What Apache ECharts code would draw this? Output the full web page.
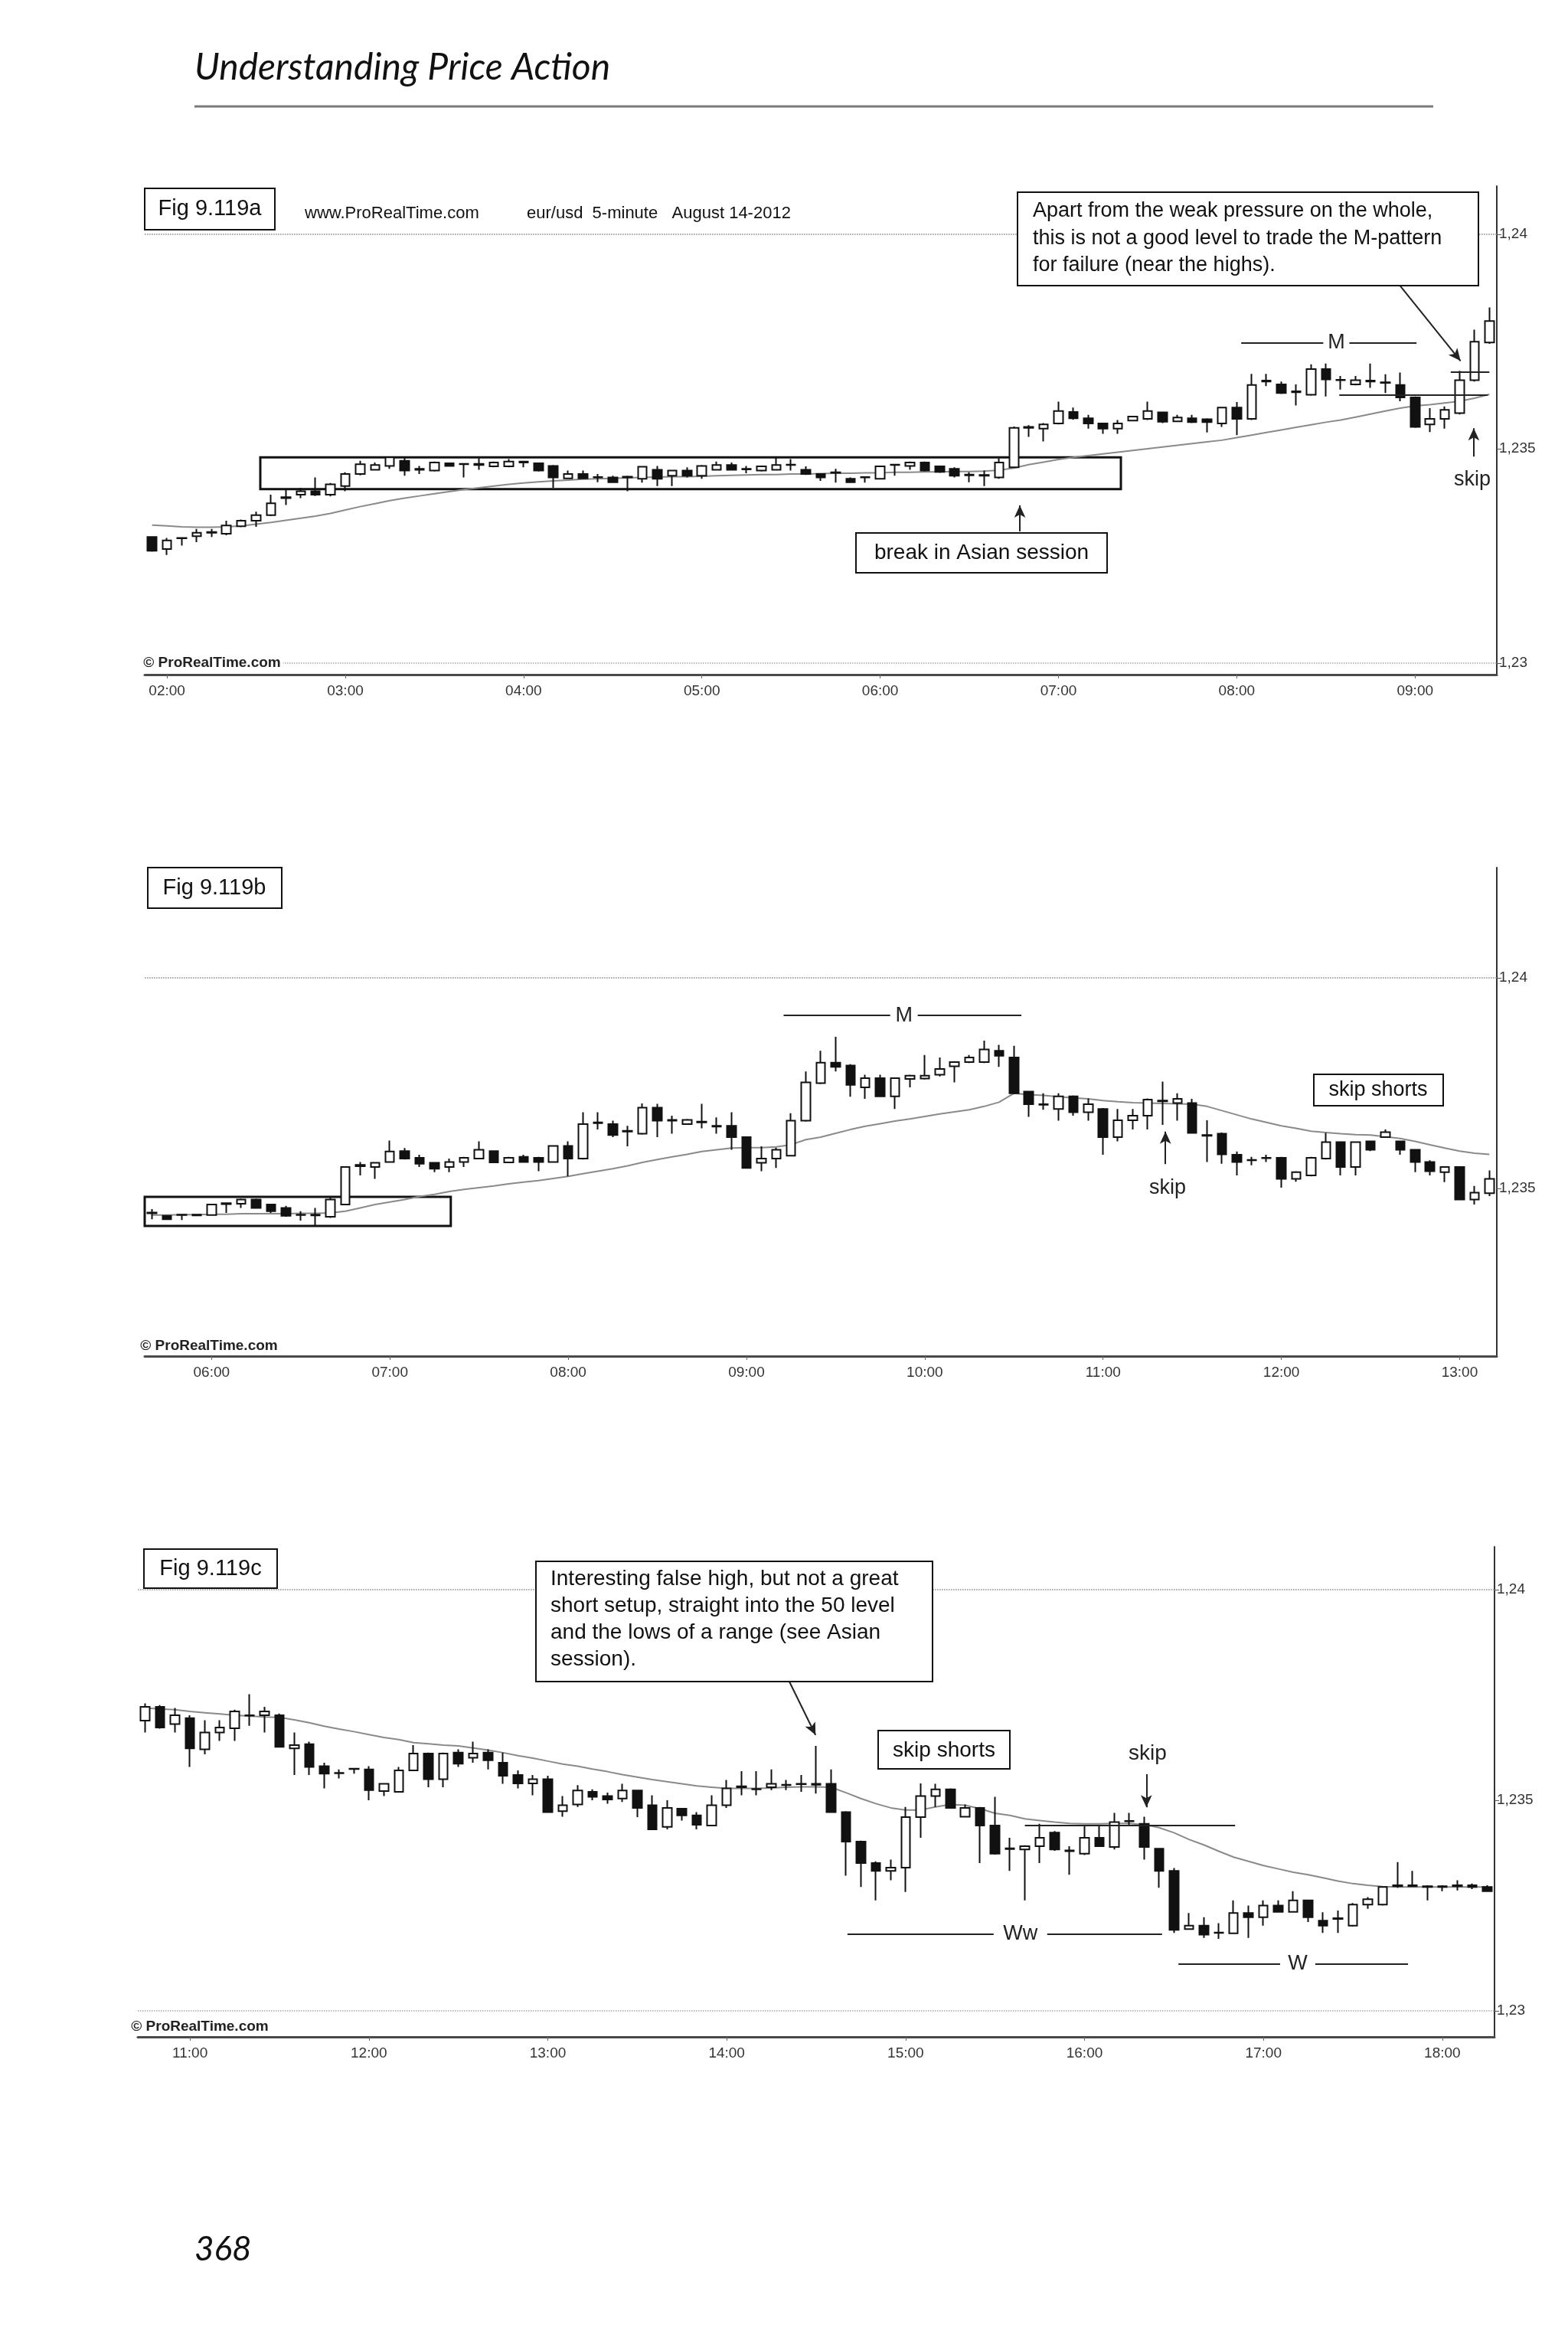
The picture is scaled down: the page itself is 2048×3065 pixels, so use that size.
<!DOCTYPE html>
<html><head><meta charset="utf-8">
<script src="https://cdn.jsdelivr.net/npm/echarts@6/dist/echarts.min.js"></script>
<style>html,body{margin:0;padding:0;background:#fff}#c{width:2048px;height:3065px}</style>
</head><body><div id="c"></div>
<script>
// ---------- categories (5-minute bars) ----------
const timesA = ['01:55',
'02:00','02:05','02:10','02:15','02:20','02:25','02:30','02:35','02:40','02:45','02:50','02:55',
'03:00','03:05','03:10','03:15','03:20','03:25','03:30','03:35','03:40','03:45','03:50','03:55',
'04:00','04:05','04:10','04:15','04:20','04:25','04:30','04:35','04:40','04:45','04:50','04:55',
'05:00','05:05','05:10','05:15','05:20','05:25','05:30','05:35','05:40','05:45','05:50','05:55',
'06:00','06:05','06:10','06:15','06:20','06:25','06:30','06:35','06:40','06:45','06:50','06:55',
'07:00','07:05','07:10','07:15','07:20','07:25','07:30','07:35','07:40','07:45','07:50','07:55',
'08:00','08:05','08:10','08:15','08:20','08:25','08:30','08:35','08:40','08:45','08:50','08:55',
'09:00','09:05','09:10','09:15','09:20','09:25'];
const timesB = ['05:40','05:45','05:50','05:55',
'06:00','06:05','06:10','06:15','06:20','06:25','06:30','06:35','06:40','06:45','06:50','06:55',
'07:00','07:05','07:10','07:15','07:20','07:25','07:30','07:35','07:40','07:45','07:50','07:55',
'08:00','08:05','08:10','08:15','08:20','08:25','08:30','08:35','08:40','08:45','08:50','08:55',
'09:00','09:05','09:10','09:15','09:20','09:25','09:30','09:35','09:40','09:45','09:50','09:55',
'10:00','10:05','10:10','10:15','10:20','10:25','10:30','10:35','10:40','10:45','10:50','10:55',
'11:00','11:05','11:10','11:15','11:20','11:25','11:30','11:35','11:40','11:45','11:50','11:55',
'12:00','12:05','12:10','12:15','12:20','12:25','12:30','12:35','12:40','12:45','12:50','12:55',
'13:00','13:05','13:10'];
const timesC = ['10:45','10:50','10:55',
'11:00','11:05','11:10','11:15','11:20','11:25','11:30','11:35','11:40','11:45','11:50','11:55',
'12:00','12:05','12:10','12:15','12:20','12:25','12:30','12:35','12:40','12:45','12:50','12:55',
'13:00','13:05','13:10','13:15','13:20','13:25','13:30','13:35','13:40','13:45','13:50','13:55',
'14:00','14:05','14:10','14:15','14:20','14:25','14:30','14:35','14:40','14:45','14:50','14:55',
'15:00','15:05','15:10','15:15','15:20','15:25','15:30','15:35','15:40','15:45','15:50','15:55',
'16:00','16:05','16:10','16:15','16:20','16:25','16:30','16:35','16:40','16:45','16:50','16:55',
'17:00','17:05','17:10','17:15','17:20','17:25','17:30','17:35','17:40','17:45','17:50','17:55',
'18:00','18:05','18:10','18:15'];

// ---------- price bars [open, close, low, high] ----------
const ohlcA = [
[1.23294,1.23262,1.2326,1.23296],[1.23266,1.23286,1.23252,1.23292],[1.23291,1.23292,1.23274,1.23293],[1.23296,1.23304,1.23282,1.23313],
[1.23306,1.23304,1.23294,1.23313],[1.23302,1.23321,1.23298,1.23332],[1.23319,1.23332,1.23317,1.23335],[1.23332,1.23345,1.23318,1.23353],
[1.23345,1.23373,1.23343,1.23393],[1.23385,1.23387,1.23369,1.23405],[1.23393,1.23401,1.23385,1.23409],[1.23401,1.23393,1.2339,1.23433],
[1.23393,1.23417,1.23389,1.2342],[1.23413,1.23441,1.23401,1.23445],[1.23441,1.23464,1.23438,1.23472],[1.23451,1.23462,1.23449,1.23468],
[1.2346,1.2348,1.23453,1.23482],[1.23472,1.23449,1.23437,1.2348],[1.23453,1.23451,1.23441,1.2346],[1.23449,1.23468,1.23447,1.2347],
[1.23466,1.2346,1.23458,1.23468],[1.23465,1.23464,1.23433,1.23466],[1.23462,1.23465,1.23451,1.23478],[1.23459,1.23468,1.23457,1.2347],
[1.23459,1.2347,1.23457,1.23476],[1.23468,1.2347,1.23457,1.23472],[1.23466,1.23449,1.23447,1.23468],[1.2346,1.23433,1.23409,1.23462],
[1.23431,1.23441,1.2343,1.23449],[1.23441,1.23431,1.2343,1.23449],[1.23433,1.23434,1.23422,1.23441],[1.23433,1.23422,1.2342,1.23437],
[1.23433,1.23435,1.23401,1.23437],[1.2343,1.23458,1.23421,1.2346],[1.23451,1.2343,1.23413,1.2346],[1.23437,1.23449,1.23413,1.23451],
[1.23449,1.23437,1.23433,1.23457],[1.23437,1.2346,1.2343,1.23462],[1.23451,1.23462,1.23449,1.2347],[1.23462,1.23451,1.23449,1.23468],
[1.23453,1.23452,1.23443,1.2346],[1.23449,1.23459,1.23447,1.2346],[1.23451,1.23462,1.23449,1.2348],[1.23462,1.23463,1.23449,1.23476],
[1.23451,1.23441,1.23439,1.23459],[1.23441,1.23433,1.23425,1.23443],[1.23445,1.23444,1.23421,1.23453],[1.2343,1.23422,1.2342,1.23433],
[1.23433,1.23434,1.23421,1.23435],[1.2343,1.23459,1.23428,1.2346],[1.23462,1.23463,1.23437,1.23465],[1.2346,1.23468,1.23451,1.2347],
[1.23468,1.23449,1.23447,1.2347],[1.23459,1.23446,1.23444,1.2346],[1.23453,1.23437,1.23433,1.23457],[1.2344,1.23438,1.23422,1.23445],
[1.23437,1.23439,1.23413,1.23449],[1.23433,1.23468,1.2343,1.23478],[1.23457,1.23549,1.23455,1.23552],[1.23549,1.23551,1.23528,1.23555],
[1.23547,1.23557,1.23517,1.2356],[1.23559,1.23588,1.23557,1.2361],[1.23586,1.23571,1.23568,1.23596],[1.23571,1.23559,1.23547,1.23579],
[1.23559,1.23547,1.23535,1.2356],[1.23547,1.23559,1.23535,1.23567],[1.23566,1.23575,1.23564,1.23577],[1.2357,1.23588,1.23567,1.2361],
[1.23585,1.23563,1.2356,1.23587],[1.23564,1.23573,1.23562,1.23579],[1.23571,1.23562,1.2356,1.23579],[1.23569,1.23562,1.23538,1.23571],
[1.23559,1.23596,1.23551,1.23598],[1.23596,1.2357,1.23532,1.23609],[1.2357,1.23649,1.23567,1.23675],[1.23657,1.23659,1.23646,1.23675],
[1.2365,1.2363,1.23628,1.23657],[1.23632,1.23634,1.23601,1.2365],[1.23626,1.23686,1.23624,1.23697],[1.23686,1.23662,1.23622,1.23699],
[1.2366,1.23661,1.23638,1.2367],[1.2365,1.2366,1.23648,1.2367],[1.23659,1.23657,1.23642,1.23699],[1.23655,1.23654,1.2363,1.23674],
[1.23649,1.2362,1.23611,1.23678],[1.2362,1.23551,1.23549,1.23622],[1.23557,1.2357,1.23539,1.23595],[1.2357,1.23591,1.23547,1.23599],
[1.23583,1.2366,1.2358,1.23682],[1.2366,1.2375,1.23657,1.23778],[1.23748,1.23798,1.23745,1.2383]];

const ohlcB = [
[1.23441,1.23443,1.23427,1.23451],[1.23435,1.23427,1.23425,1.23437],[1.23437,1.23438,1.23425,1.23439],[1.23438,1.23436,1.23435,1.23439],
[1.23437,1.23462,1.23435,1.23464],[1.23463,1.23465,1.23442,1.23466],[1.23464,1.23474,1.23454,1.23476],[1.23474,1.23454,1.23452,1.23476],
[1.23462,1.23446,1.23442,1.23464],[1.23454,1.23435,1.23433,1.23459],[1.23437,1.23438,1.23424,1.23446],[1.23438,1.23436,1.23413,1.23454],
[1.23433,1.23474,1.2343,1.23482],[1.23462,1.23551,1.2346,1.23553],[1.23553,1.23556,1.23531,1.23563],[1.23551,1.23561,1.23523,1.23562],
[1.23563,1.23588,1.23561,1.23614],[1.23589,1.23571,1.23569,1.23596],[1.23573,1.23559,1.23551,1.2358],[1.23561,1.23547,1.23539,1.23562],
[1.23551,1.23563,1.23539,1.23571],[1.23563,1.23573,1.23551,1.23575],[1.23571,1.23592,1.2357,1.23612],[1.23589,1.23562,1.2356,1.2359],
[1.23562,1.23573,1.2356,1.23575],[1.23575,1.23563,1.23561,1.2358],[1.23573,1.23563,1.23541,1.23575],[1.23563,1.23601,1.23561,1.23603],
[1.23601,1.23571,1.23529,1.23612],[1.23571,1.23653,1.23569,1.23681],[1.23655,1.23657,1.2364,1.23681],[1.23653,1.23627,1.23622,1.23661],
[1.23635,1.23637,1.236,1.23649],[1.2363,1.23692,1.23628,1.23702],[1.23692,1.23661,1.23622,1.23701],[1.23661,1.23663,1.2363,1.23673],
[1.23653,1.23663,1.23651,1.23665],[1.23659,1.23657,1.23643,1.23701],[1.23649,1.23647,1.2363,1.23669],[1.23649,1.23622,1.23592,1.23681],
[1.23622,1.23549,1.23547,1.23624],[1.23561,1.23571,1.23541,1.236],[1.23571,1.23592,1.23549,1.23597],[1.23578,1.23661,1.23576,1.23679],
[1.23661,1.23752,1.23659,1.23778],[1.2375,1.23799,1.23748,1.23827],[1.23799,1.23789,1.23778,1.2386],[1.23792,1.23746,1.23718,1.23795],
[1.2374,1.23762,1.23713,1.2377],[1.23762,1.23719,1.23717,1.2377],[1.23719,1.23762,1.23689,1.23764],[1.2376,1.23768,1.2374,1.2377],
[1.23761,1.23768,1.23759,1.23817],[1.2377,1.23784,1.23766,1.23811],[1.2379,1.238,1.23752,1.23802],[1.238,1.23811,1.23798,1.23817],
[1.238,1.2383,1.23798,1.23851],[1.23827,1.23815,1.23789,1.23841],[1.23811,1.23726,1.23724,1.23839],[1.2373,1.237,1.2367,1.23732],
[1.237,1.23699,1.23687,1.23726],[1.23689,1.23719,1.23661,1.23726],[1.23719,1.23681,1.23673,1.23721],[1.23681,1.237,1.23661,1.23714],
[1.23689,1.23622,1.2358,1.23691],[1.23622,1.23662,1.23612,1.23689],[1.23662,1.23673,1.2364,1.23689],[1.23673,1.23711,1.2364,1.23714],
[1.23707,1.23709,1.23651,1.23754],[1.23703,1.23713,1.23661,1.23726],[1.23703,1.23632,1.2363,1.23713],[1.23627,1.23625,1.23563,1.23662],
[1.2363,1.23581,1.23559,1.23633],[1.2358,1.23563,1.23531,1.23588],[1.23567,1.23568,1.23555,1.23575],[1.23573,1.23572,1.23563,1.2358],
[1.23573,1.23523,1.23502,1.23575],[1.23523,1.23539,1.23516,1.23541],[1.23531,1.23573,1.23529,1.23575],[1.23571,1.2361,1.23569,1.23632],
[1.2361,1.23551,1.23531,1.23612],[1.23551,1.2361,1.23531,1.23612],[1.23612,1.23592,1.23589,1.23614],[1.23622,1.23634,1.2362,1.2364],
[1.23612,1.23592,1.2358,1.23614],[1.23592,1.23563,1.23539,1.23594],[1.23563,1.23541,1.23531,1.23567],[1.23539,1.23551,1.23515,1.23553],
[1.23551,1.23474,1.23472,1.23553],[1.23474,1.2349,1.23462,1.23506],[1.23489,1.23523,1.23482,1.23543]];

const ohlcC = [
[1.23689,1.23722,1.23661,1.2373],[1.23722,1.23673,1.2367,1.23726],[1.23681,1.23702,1.23661,1.23719],[1.23695,1.23623,1.23579,1.23702],
[1.23621,1.23661,1.23609,1.2369],[1.23661,1.23673,1.23641,1.2369],[1.23671,1.23711,1.23641,1.23715],[1.23702,1.23701,1.23677,1.23752],
[1.23702,1.23711,1.23661,1.23722],[1.23702,1.23627,1.23625,1.23706],[1.23623,1.23631,1.2356,1.23661],[1.23633,1.23579,1.2356,1.23639],
[1.23581,1.23563,1.23528,1.23589],[1.23565,1.23564,1.23552,1.23573],[1.23574,1.23575,1.23563,1.23577],[1.23573,1.23524,1.235,1.23581],
[1.23522,1.23539,1.2351,1.23541],[1.2352,1.23571,1.23518,1.23579],[1.23571,1.23611,1.23569,1.23631],[1.23611,1.2355,1.23531,1.23613],
[1.2355,1.23611,1.23531,1.23613],[1.23613,1.23587,1.23579,1.23621],[1.23601,1.23611,1.23589,1.23639],[1.23613,1.23595,1.23573,1.23621],
[1.23589,1.23558,1.23539,1.23613],[1.2356,1.2354,1.23528,1.23571],[1.2354,1.2355,1.23512,1.2356],[1.2355,1.23472,1.2347,1.23558],
[1.23474,1.23488,1.23461,1.2351],[1.2349,1.23523,1.23484,1.23536],[1.2352,1.23508,1.235,1.23526],[1.2351,1.23502,1.23492,1.23518],
[1.23504,1.23523,1.23496,1.23539],[1.23523,1.23482,1.2346,1.23525],[1.23488,1.23431,1.23429,1.23512],[1.23437,1.23482,1.23431,1.235],
[1.2348,1.23464,1.23452,1.23482],[1.23464,1.23442,1.23431,1.23472],[1.2344,1.23488,1.23438,1.23512],[1.23488,1.23528,1.23482,1.23548],
[1.23531,1.23533,1.23512,1.23569],[1.23527,1.23526,1.23512,1.23569],[1.23531,1.23539,1.23524,1.23573],[1.23536,1.23537,1.23524,1.23548],
[1.23538,1.23539,1.2352,1.2356],[1.23537,1.23539,1.23516,1.23629],[1.23539,1.23472,1.2347,1.23573],[1.23472,1.23402,1.23321,1.23474],
[1.23402,1.23351,1.23294,1.23404],[1.23351,1.23332,1.23262,1.23355],[1.23332,1.2334,1.2331,1.23359],[1.2334,1.2346,1.23282,1.23484],
[1.2346,1.2351,1.23411,1.2354],[1.2351,1.23526,1.23484,1.23539],[1.23526,1.23482,1.2348,1.23528],[1.23461,1.23482,1.2346,1.2349],
[1.23482,1.2344,1.23351,1.23484],[1.2344,1.23373,1.23371,1.23508],[1.23384,1.23386,1.23332,1.23411],[1.23383,1.23391,1.23262,1.23393],
[1.23391,1.23411,1.23351,1.23444],[1.23423,1.23383,1.2338,1.23427],[1.23381,1.23379,1.23323,1.23391],[1.23373,1.23411,1.2337,1.23442],
[1.23411,1.23391,1.23389,1.2344],[1.23389,1.23448,1.23383,1.2347],[1.2345,1.23451,1.2344,1.2347],[1.23444,1.23389,1.23359,1.23461],
[1.23385,1.23332,1.23292,1.23387],[1.23332,1.23192,1.23185,1.23339],[1.23194,1.23202,1.23192,1.23232],[1.23202,1.23181,1.23173,1.23222],
[1.23186,1.23185,1.23171,1.23208],[1.23184,1.23232,1.23182,1.23262],[1.23232,1.23222,1.23173,1.2325],[1.23222,1.2325,1.23202,1.23262],
[1.2325,1.23235,1.23233,1.23262],[1.23235,1.23262,1.23233,1.23284],[1.23262,1.23222,1.23211,1.23264],[1.23214,1.23202,1.23185,1.23234],
[1.23218,1.2322,1.23185,1.23238],[1.23202,1.23252,1.232,1.23256],[1.23252,1.23265,1.23242,1.2327],[1.23252,1.23294,1.2325,1.23296],
[1.23296,1.23298,1.23292,1.23353],[1.23298,1.23296,1.23294,1.23332],[1.23294,1.23296,1.23262,1.23298],[1.23296,1.23294,1.23284,1.23298],
[1.23296,1.23298,1.23286,1.2331],[1.23298,1.23294,1.23289,1.23302],[1.23294,1.23284,1.23282,1.23298]];

// ---------- moving average ----------
const maA = [1.23322,1.2332,1.23318,1.23317,1.23317,1.23318,1.2332,1.23324,1.23328,1.23333,
1.23338,1.23343,1.23349,1.23357,1.23365,1.23372,1.23379,1.23385,1.2339,1.23395,
1.234,1.23405,1.23409,1.23413,1.23417,1.2342,1.23423,1.23425,1.23427,1.23429,
1.2343,1.23431,1.23432,1.23433,1.23434,1.23435,1.23435,1.23436,1.23437,1.23438,
1.23439,1.2344,1.2344,1.23441,1.23441,1.23442,1.23443,1.23443,1.23444,1.23444,
1.23445,1.23445,1.23446,1.23446,1.23447,1.23447,1.23448,1.2345,1.23455,1.23463,
1.23469,1.23475,1.2348,1.23484,1.23488,1.23492,1.23496,1.235,1.23504,1.23508,
1.23512,1.23516,1.2352,1.23526,1.23532,1.23538,1.23544,1.2355,1.23556,1.23562,
1.23567,1.23574,1.23581,1.23588,1.23595,1.236,1.23603,1.23607,1.23611,1.23618,1.23627];
const maB = [1.23437,1.23437,1.23438,1.23438,1.23439,1.23439,1.2344,1.2344,1.2344,1.2344,1.23441,1.23441,1.23442,
1.23446,1.23454,1.23462,1.23468,1.23474,1.23481,1.23486,1.23493,1.23498,1.23502,1.23506,1.23511,1.23515,1.23519,1.23524,1.23529,1.23535,1.23541,1.23547,1.23554,1.23562,1.23569,1.23575,1.23581,1.23588,1.23592,1.23596,1.23597,1.23597,1.23599,1.23604,1.23616,
1.23622,1.23631,1.2364,1.23648,1.23654,1.2366,1.23665,1.23671,1.23677,1.23682,1.23687,1.23695,1.23705,
1.23726,1.23723,1.23721,1.23718,1.23715,1.23713,1.23709,1.23706,1.23704,1.23703,1.23702,1.23701,1.237,1.23695,1.23685,1.23675,1.23665,1.23657,1.23649,1.23643,1.23636,1.23633,1.2363,1.23628,1.23627,1.23623,1.23619,1.23612,1.23604,1.23596,1.23589,1.23584,1.23581];
const maC = [1.23719,1.23717,1.23715,1.23711,1.23708,1.23705,1.23702,1.237,1.23698,1.23697,
1.23691,1.23684,1.23676,1.23669,1.23663,1.23656,1.23649,1.23644,1.23637,1.23634,
1.23631,1.23629,1.23624,1.23619,1.23613,1.23606,1.236,1.23593,1.23586,1.23581,
1.23574,1.23568,1.23561,1.23555,1.23549,1.23544,1.23539,1.23534,1.23531,1.23528,
1.23528,1.23528,1.23529,1.23531,1.23532,1.23532,1.23531,1.23518,1.23504,1.23492,
1.23482,1.23477,1.23477,1.23484,1.2349,1.23488,1.2348,1.23469,1.23464,1.23456,
1.23452,1.23448,1.23445,1.23444,1.23444,1.23445,1.23445,1.23442,1.23435,1.23423,
1.23407,1.23394,1.23379,1.23365,1.23355,1.23345,1.23337,1.23329,1.23323,1.23316,
1.23308,1.23302,1.23298,1.23295,1.23294,1.23294,1.23294,1.23294,1.23294,1.23294,1.23294];

// ---------- tick labels ----------
const yTicksA = [1.23, 1.235, 1.24];
const yTicksB = [1.235, 1.24];
const yTicksC = [1.23, 1.235, 1.24];

const FONT = '"Liberation Sans Narrow","Liberation Sans",Arial,sans-serif';
const chart = echarts.init(document.getElementById('c'), null, {renderer:'canvas', width:2048, height:3065});

const isHour = (i, v) => v.slice(3) === '00';
function xCat(grid, data){
  return {type:'category', gridIndex:grid, data, boundaryGap:true,
    axisLine:{show:true, onZero:false, lineStyle:{color:'#4a4a4a', width:3}},
    axisTick:{show:true, interval:isHour, alignWithLabel:true, length:5, lineStyle:{color:'#666', width:1}},
    axisLabel:{interval:isHour, fontSize:19, color:'#333', margin:12, fontFamily:FONT},
    splitLine:{show:false}};
}
function xVal(grid){
  return {type:'value', gridIndex:grid, min:-0.5, max:90.5, show:false,
    axisLine:{show:false, onZero:false}, splitLine:{show:false}};
}
function yAx(grid, min, max, ticks){
  return {type:'value', gridIndex:grid, position:'right', min, max, scale:true,
    axisLine:{show:true, onZero:false, lineStyle:{color:'#333', width:2}},
    axisTick:{show:true, customValues:ticks, length:6, lineStyle:{color:'#555'}},
    axisLabel:{customValues:ticks, fontSize:19, color:'#333', margin:3, fontFamily:FONT,
      formatter: v => String(v).replace('.', ',')},
    splitLine:{show:false}};
}
const gridStyle = {type:'dotted', color:'#a8a8a8', width:1.5};
const annLine = {type:'solid', color:'#222', width:2};
function gl(ticks){ return ticks.map(v => ({yAxis:v, lineStyle:gridStyle})); }
function seg(x1,y1,x2,y2){ return [{coord:[x1,y1], symbol:'none', lineStyle:annLine},{coord:[x2,y2], symbol:'none'}]; }
function arrow(x1,y1,x2,y2){ return [{coord:[x1,y1], symbol:'none', lineStyle:{type:'solid', color:'#222', width:2}},{coord:[x2,y2], symbol:'arrow', symbolSize:[11,16]}]; }
function lbl(x,y,t,w){ return {coord:[x,y], symbol:'rect', symbolSize:[w,30], itemStyle:{color:'#fff'},
  label:{show:true, position:'inside', formatter:t, color:'#222', fontSize:27, fontFamily:FONT}}; }

function candle(xi, yi, data){
  return {type:'candlestick', xAxisIndex:xi, yAxisIndex:yi, data, barWidth:12, z:3,
    itemStyle:{color:'#ffffff', color0:'#111', borderColor:'#111', borderColor0:'#111', borderColorDoji:'#111', borderWidth:2}};
}
function maLine(xi, yi, ma, ml, ma2, mp){
  return {type:'line', xAxisIndex:xi, yAxisIndex:yi, data: ma.map((v,i)=>[i,v]), symbol:'none', showSymbol:false, z:2,
    lineStyle:{color:'#8a8a8a', width:2}, silent:true,
    markLine:{silent:true, symbol:['none','none'], label:{show:false}, data:ml, animation:false},
    markArea:{silent:true, itemStyle:{color:'rgba(0,0,0,0)', borderColor:'#111', borderWidth:3}, data:ma2, animation:false},
    markPoint:{silent:true, data:mp, animation:false}};
}

const option = {
  animation:false,
  backgroundColor:'#fff',
  textStyle:{fontFamily:FONT},
  grid:[
    {left:189, right:93, top:243, height:638},
    {left:189, right:93, top:1133, height:638},
    {left:180, right:96, top:2020, height:640}
  ],
  xAxis:[xCat(0,timesA), xCat(1,timesB), xCat(2,timesC), xVal(0), xVal(1), xVal(2)],
  yAxis:[yAx(0,1.22973,1.24113,yTicksA), yAx(1,1.23102,1.24262,yTicksB), yAx(2,1.22938,1.24102,yTicksC)],
  series:[
    maLine(3,0,maA,
      gl(yTicksA).concat([
        seg(73.3,1.23748,85.1,1.23748),
        seg(79.9,1.23625,89.9,1.23625),
        seg(87.4,1.2368,90.0,1.2368),
        arrow(84.0,1.2388,88.06,1.23705),
        arrow(58.4,1.23307,58.4,1.23368),
        arrow(88.95,1.23482,88.95,1.23548)
      ]),
      [[{coord:[7.28,1.2348]},{coord:[65.2,1.23406]}]],
      [lbl(79.7,1.23748,'M',34)]),
    candle(0,0,ohlcA),
    maLine(4,1,maB,
      gl(yTicksB).concat([
        seg(42.5,1.23911,58.5,1.23911),
        arrow(68.2,1.23558,68.2,1.23635)
      ]),
      [[{coord:[-0.5,1.2348]},{coord:[20.1,1.23411]}]],
      [lbl(50.6,1.23911,'M',36)]),
    candle(1,1,ohlcB),
    maLine(5,2,maC,
      gl(yTicksC).concat([
        seg(59.0,1.2344,73.1,1.2344),
        seg(47.1,1.23182,68.2,1.23182),
        seg(69.3,1.23111,84.7,1.23111),
        arrow(43.2,1.23782,44.96,1.23655),
        arrow(67.15,1.23562,67.15,1.23483)
      ]),
      [],
      [lbl(58.7,1.23182,'Ww',70), lbl(77.3,1.23111,'W',46)]),
    candle(2,2,ohlcC)
  ],
  graphic:[]
};

// ---------- annotations (page furniture) ----------
const G = option.graphic;
function box(x,y,w,h){ G.push({type:'rect', z:100, shape:{x,y,width:w,height:h}, style:{fill:'#fff', stroke:'#111', lineWidth:2}}); }
function txt(x,y,s,size,align){ G.push({type:'text', z:101, x, y,
  style:{text:s, fill:'#111', font:size+'px '+FONT, textAlign:align||'left', textVerticalAlign:'middle'}}); }
function bgtxt(x,y,s,size,align,weight){ G.push({type:'text', z:101, x, y,
  style:{text:s, fill:'#222', font:(weight||'')+' '+size+'px '+FONT, textAlign:align||'center', textVerticalAlign:'middle', backgroundColor:'#fff', padding:[2,3]}}); }

// page header
G.push({type:'text', z:101, x:254, y:89, style:{text:'Understanding Price Action', fill:'#111', font:'italic 48px Lato,"Open Sans",sans-serif', textVerticalAlign:'middle'}});
G.push({type:'line', z:100, shape:{x1:254,y1:139,x2:1872,y2:139}, style:{stroke:'#7a7a7a', lineWidth:3}});
G.push({type:'text', z:101, x:254, y:2938, style:{text:'368', fill:'#111', font:'italic 44px Lato,"Open Sans",sans-serif', textVerticalAlign:'middle'}});

// chart a
box(189,246,170,54); txt(274,273,'Fig 9.119a',29,'center');
txt(398,279,'www.ProRealTime.com',22); txt(688,279,'eur/usd  5-minute   August 14-2012',22);
box(1329,251,602,122);
txt(1349,276,'Apart from the weak pressure on the whole,',27);
txt(1349,312,'this is not a good level to trade the M-pattern',27);
txt(1349,347,'for failure (near the highs).',27);
box(1118,696,328,52); txt(1282,722,'break in Asian session',28,'center');
bgtxt(1923,627,'skip',27);
bgtxt(277,866,'\u00a9 ProRealTime.com',19,'center','bold');

// chart b
box(193,1133,175,53); txt(280,1160,'Fig 9.119b',29,'center');
box(1716,1403,169,41); txt(1800,1424,'skip shorts',27,'center');
bgtxt(1525,1552,'skip',27);
bgtxt(273,1758,'\u00a9 ProRealTime.com',19,'center','bold');

// chart c
box(188,2023,174,51); txt(275,2049,'Fig 9.119c',29,'center');
box(700,2039,518,157);
txt(719,2062,'Interesting false high, but not a great',28);
txt(719,2097,'short setup, straight into the 50 level',28);
txt(719,2132,'and the lows of a range (see Asian',28);
txt(719,2167,'session).',28);
box(1147,2260,172,50); txt(1233,2286,'skip shorts',28,'center');
bgtxt(1499,2290,'skip',28);
bgtxt(261,2647,'\u00a9 ProRealTime.com',19,'center','bold');

chart.setOption(option);
</script>
</body></html>
